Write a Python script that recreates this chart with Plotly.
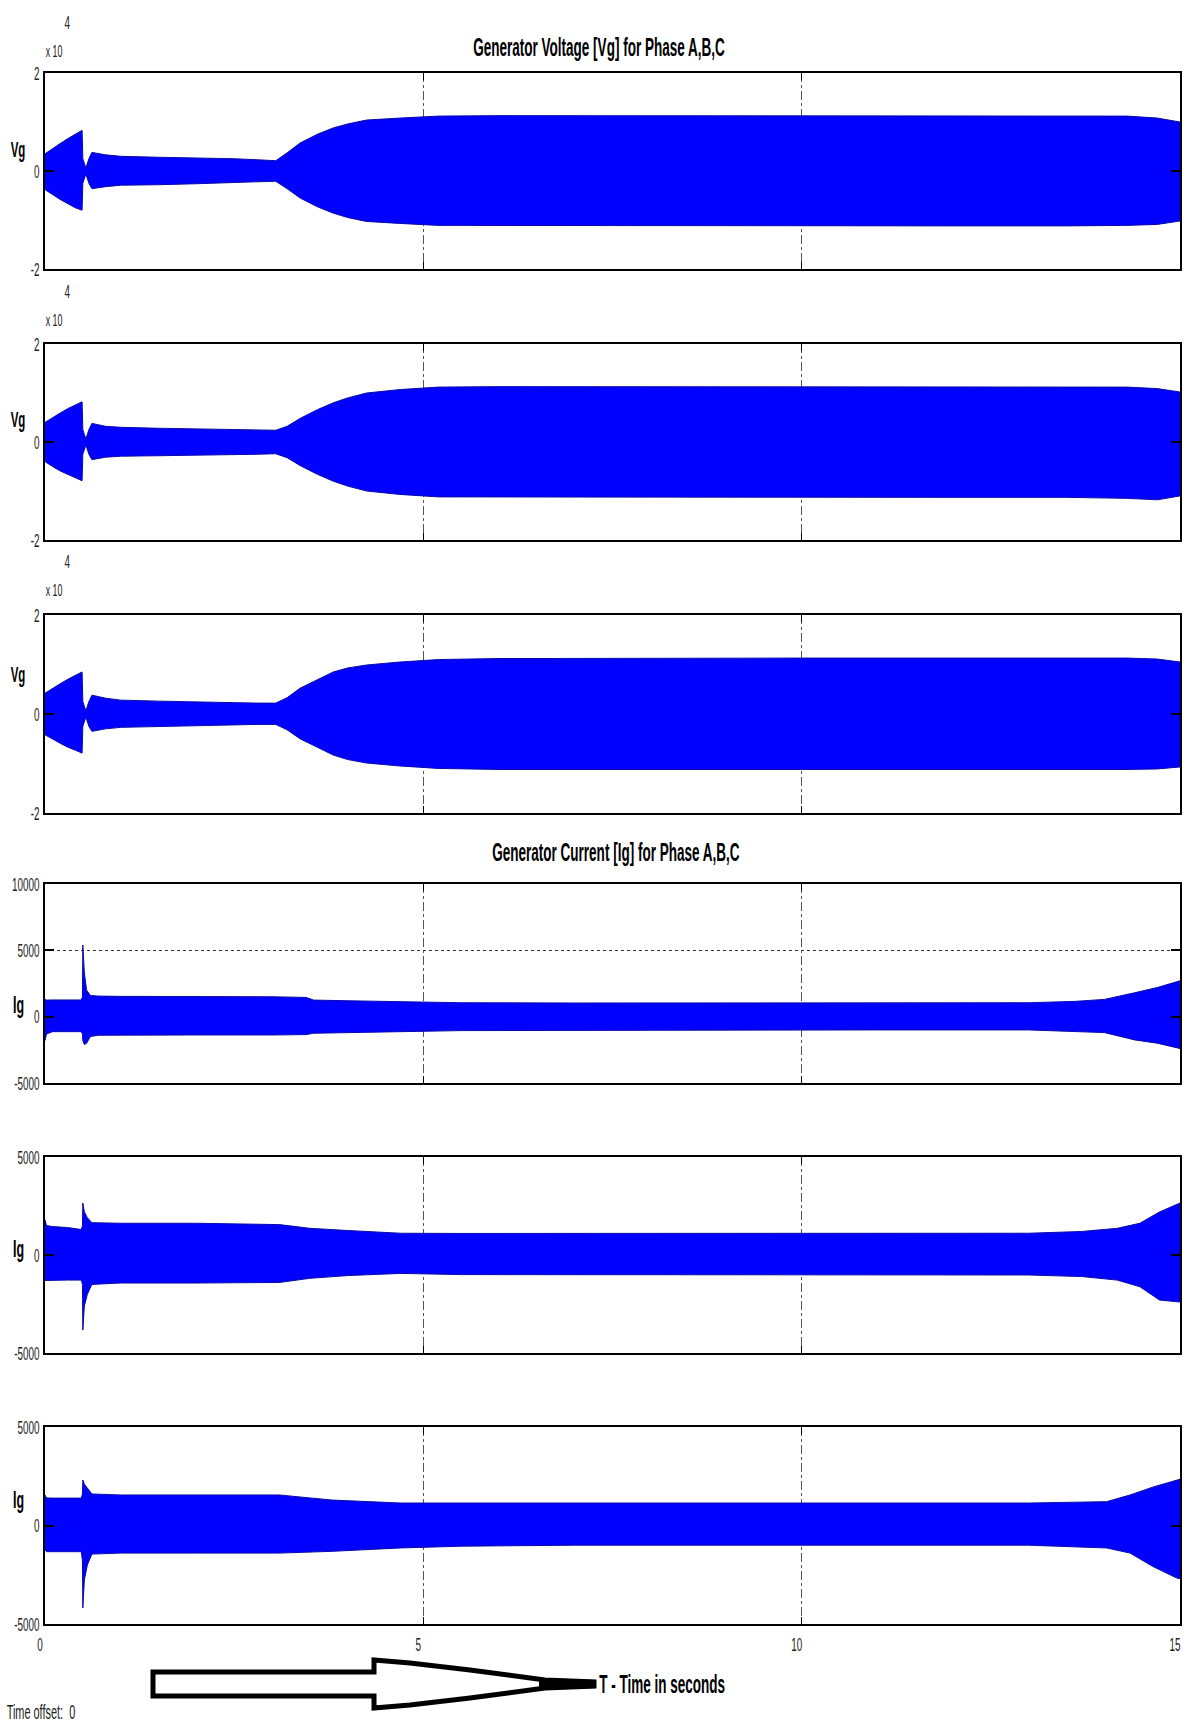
import plotly.graph_objects as go

# ---------------- data (envelopes) ----------------
# Generator voltage, phase A/B/C  (volts)
t_vg = [0, 0.1, 0.2, 0.3, 0.4, 0.49, 0.50, 0.54, 0.58, 0.62, 0.8, 1.0, 1.5, 2.0, 2.5, 2.8,
        3.05, 3.2, 3.37, 3.6, 3.81, 4.0, 4.25, 4.69, 5.2, 6, 8, 10, 12, 13.5, 14.3, 14.7, 15]
vga_hi = [3500, 4600, 5600, 6600, 7500, 8300, 2500, 600, 2500, 3800, 3300, 3000, 2800, 2700, 2500, 2300,
          2100, 3700, 5700, 7500, 8800, 9600, 10400, 10800, 11200, 11300, 11300, 11300, 11300, 11300, 11200, 10800, 10000]
vga_lo = [-3800, -4800, -5800, -6700, -7500, -8000, -2500, -600, -2500, -3600, -3200, -2900, -2800, -2600, -2400, -2200,
          -2100, -3600, -5500, -7300, -8600, -9500, -10300, -10700, -11100, -11200, -11200, -11200, -11200, -11200, -11100, -10900, -10200]
vgb_hi = [4000, 5000, 5900, 6800, 7500, 8200, 2500, 600, 2500, 3800, 3200, 3000, 2800, 2700, 2600, 2500,
          2400, 3200, 4800, 6600, 8000, 9000, 10000, 10700, 11200, 11300, 11300, 11300, 11300, 11300, 11200, 10900, 10200]
vgb_lo = [-4000, -5000, -5900, -6700, -7300, -7900, -2500, -600, -2500, -3600, -3100, -2900, -2800, -2700, -2600, -2500,
          -2400, -3200, -4800, -6600, -8000, -9000, -10000, -10700, -11200, -11300, -11300, -11300, -11300, -11300, -11500, -11800, -11000]
vgc_hi = [4200, 5200, 6100, 7000, 7800, 8500, 2500, 600, 2500, 3800, 3200, 2800, 2600, 2400, 2300, 2200,
          2200, 3300, 5200, 7000, 8500, 9300, 9900, 10500, 11000, 11200, 11300, 11300, 11300, 11300, 11300, 11100, 10500]
vgc_lo = [-4200, -5100, -5900, -6700, -7300, -7900, -2500, -600, -2500, -3500, -3000, -2700, -2500, -2300, -2200, -2100,
          -2100, -3200, -5000, -6800, -8300, -9200, -9900, -10500, -11000, -11200, -11200, -11200, -11200, -11200, -11200, -11100, -10700]

# Generator current, phase A/B/C  (amperes)
t_iga = [0, 0.02, 0.1, 0.3, 0.48, 0.495, 0.50, 0.52, 0.55, 0.6, 0.7, 1.0, 2.0, 3.0, 3.45, 3.55,
         4.0, 4.7, 5.5, 7, 9, 11, 13, 13.6, 14.0, 14.4, 14.7, 15]
iga_hi = [1300, 1250, 1260, 1260, 1260, 1500, 5400, 3300, 2000, 1600, 1550, 1530, 1530, 1500, 1450, 1250,
          1200, 1130, 1050, 1030, 1030, 1030, 1050, 1150, 1300, 1800, 2200, 2700]
iga_lo = [-1800, -1300, -1130, -1130, -1130, -1300, -1800, -2100, -2000, -1500, -1400, -1380, -1380, -1380, -1350, -1250,
          -1200, -1130, -1050, -1000, -1000, -1000, -1000, -1100, -1200, -1750, -2000, -2400]

t_igb = [0, 0.02, 0.1, 0.3, 0.48, 0.495, 0.50, 0.52, 0.56, 0.62, 1.0, 2.0, 3.1, 3.5, 4.0, 4.7,
         5.5, 7, 9, 11, 13, 13.7, 14.17, 14.47, 14.73, 15]
igb_hi = [1800, 1500, 1450, 1400, 1300, 1500, 2650, 2200, 1900, 1650, 1620, 1620, 1550, 1360, 1250, 1110,
          1100, 1100, 1100, 1100, 1110, 1200, 1360, 1620, 2200, 2650]
igb_lo = [-1300, -1280, -1280, -1280, -1280, -1500, -3830, -2600, -2000, -1500, -1430, -1430, -1400, -1190, -1050, -940,
          -1000, -1020, -1020, -1020, -1020, -1100, -1280, -1620, -2300, -2400]

t_igc = [0, 0.02, 0.1, 0.3, 0.48, 0.495, 0.50, 0.52, 0.56, 0.62, 1.0, 2.0, 3.1, 3.5, 3.8, 4.7,
         5.5, 7, 9, 11, 13, 14.03, 14.34, 14.65, 14.96, 15]
igc_hi = [1550, 1400, 1390, 1390, 1390, 1600, 2310, 2100, 1900, 1600, 1550, 1550, 1550, 1400, 1290, 1140,
          1140, 1140, 1140, 1140, 1140, 1210, 1550, 1960, 2300, 2350]
igc_lo = [-1240, -1330, -1330, -1330, -1330, -1800, -4190, -2760, -2000, -1450, -1400, -1400, -1400, -1350, -1310, -1140,
          -1050, -1000, -1000, -1000, -1000, -1140, -1400, -2100, -2670, -2700]

x_ticks = [0, 5, 10, 15]
x_ticklabels = ["0", "5", "10", "15"]
vg_ticks = [-20000, 0, 20000]
vg_ticklabels = ["-2", "0", "2"]
ig1_ticks = [-5000, 0, 5000, 10000]
ig1_ticklabels = ["-5000", "0", "5000", "10000"]
ig_ticks = [-5000, 0, 5000]
ig_ticklabels = ["-5000", "0", "5000"]

# ---------------- layout helpers ----------------
W, H = 1190, 1725
def px(x):
    return x / W
def py(y):
    return 1 - y / H

FONT = "Liberation Sans, Arial, sans-serif"
BLUE = "#0000ff"
EDGE = "#0a0aa8"

series = [
    (t_vg, vga_hi, vga_lo, [-20000, 20000], vg_ticks, vg_ticklabels),
    (t_vg, vgb_hi, vgb_lo, [-20000, 20000], vg_ticks, vg_ticklabels),
    (t_vg, vgc_hi, vgc_lo, [-20000, 20000], vg_ticks, vg_ticklabels),
    (t_iga, iga_hi, iga_lo, [-5000, 10000], ig1_ticks, ig1_ticklabels),
    (t_igb, igb_hi, igb_lo, [-5000, 5000], ig_ticks, ig_ticklabels),
    (t_igc, igc_hi, igc_lo, [-5000, 5000], ig_ticks, ig_ticklabels),
]
panel_px = [(73, 269), (344, 540), (615, 813), (884, 1083), (1157, 1353), (1427, 1624)]

fig = go.Figure()
layout = dict(
    width=W, height=H,
    margin=dict(l=0, r=0, t=0, b=0, autoexpand=False),
    paper_bgcolor="white", plot_bgcolor="white",
    showlegend=False,
)

for i, (t, hi, lo, yr, tv, tt) in enumerate(series):
    n = "" if i == 0 else str(i + 1)
    xs = list(t) + list(t)[::-1]
    ys = list(hi) + list(lo)[::-1]
    fig.add_trace(go.Scatter(
        x=xs, y=ys, mode="lines", fill="toself", fillcolor=BLUE,
        line=dict(color=EDGE, width=1), xaxis="x" + n, yaxis="y" + n,
        hoverinfo="skip"))
    top, bot = panel_px[i]
    layout["xaxis" + n] = dict(
        domain=[px(45), px(1180)], range=[0, 15], anchor="y" + n,
        showline=True, mirror="ticks", linecolor="black", linewidth=1.5,
        ticks="inside", ticklen=7, tickcolor="black", tickwidth=1,
        tickvals=x_ticks, ticktext=x_ticklabels, showticklabels=(i == 5),
        ticklabeloverflow="allow", automargin=False, ticklabelstandoff=2,
        ticklabelshift=-5,
        tickfont=dict(family=FONT, size=19, color="#222"),
        showgrid=True, gridcolor="#555", griddash="dashdot", gridwidth=1,
        zeroline=False, fixedrange=True,
    )
    layout["yaxis" + n] = dict(
        domain=[py(bot), py(top)], range=yr, anchor="x" + n,
        showline=True, mirror="ticks", linecolor="black", linewidth=1.5,
        ticks="inside", ticklen=9, tickcolor="black", tickwidth=1.5,
        tickvals=tv, ticktext=tt, ticklabelstandoff=0,
        ticklabeloverflow="allow", automargin=False,
        tickfont=dict(family=FONT, size=19, color="#222"),
        showgrid=True, gridcolor="#333", griddash="dot", gridwidth=1,
        zeroline=False, fixedrange=True,
    )

fig.update_layout(**layout)

ann = []
def add_text(x, y, text, size, bold=False, color="black"):
    ann.append(dict(x=px(x), y=py(y), xref="paper", yref="paper",
                    text=("<b>%s</b>" % text) if bold else text,
                    showarrow=False, xanchor="center", yanchor="middle",
                    font=dict(family=FONT, size=size, color=color)))

add_text(599, 47, "Generator Voltage [Vg] for Phase A,B,C", 26, bold=True)
add_text(616, 852, "Generator Current [Ig] for Phase A,B,C", 26, bold=True)

for yc in (150, 419, 674):
    add_text(18, yc, "Vg", 22, bold=True)
for yc in (1004, 1248, 1499):
    add_text(18, yc, "Ig", 24, bold=True)

for y4, yx in ((23, 51), (292, 320), (562, 590)):
    add_text(67, y4, "4", 19, color="#222")
    add_text(54, yx, "x 10", 17, color="#222")

add_text(662, 1684, "T - Time in seconds", 26, bold=True)
add_text(41, 1711, "Time offset:  0", 21, color="#222")

fig.update_layout(annotations=ann)

# hollow funnel-shaped arrow pointing at the time label
def path(pts):
    return "M " + " L ".join("%.5f,%.5f" % (px(a), py(b)) for a, b in pts) + " Z"

arrow_outline = [(153, 1672), (374, 1672), (374, 1660), (410, 1663), (470, 1670), (545, 1680),
                 (594, 1682), (594, 1686), (545, 1688), (470, 1698), (410, 1705), (374, 1708),
                 (374, 1696), (153, 1696)]
arrow_tail = [(540, 1679), (594, 1681), (594, 1687), (540, 1689)]
fig.update_layout(shapes=[
    dict(type="path", xref="paper", yref="paper", path=path(arrow_outline),
         line=dict(color="black", width=5), fillcolor="white"),
    dict(type="path", xref="paper", yref="paper", path=path(arrow_tail),
         line=dict(color="black", width=2), fillcolor="black"),
])

# the scope print uses a tall, strongly condensed typeface: squeeze every text horizontally
condense_js = """
document.body.style.margin = '0';
document.body.style.padding = '0';
var gd = document.getElementById('{plot_id}');
var F = 0.52;
gd.querySelectorAll('svg text').forEach(function(el){
  var w = el.getComputedTextLength();
  if (w > 0) {
    el.setAttribute('textLength', (w * F).toFixed(2));
    el.setAttribute('lengthAdjust', 'spacingAndGlyphs');
  }
});
"""

fig.write_html("out.html", post_script=condense_js, config={"displayModeBar": False})
